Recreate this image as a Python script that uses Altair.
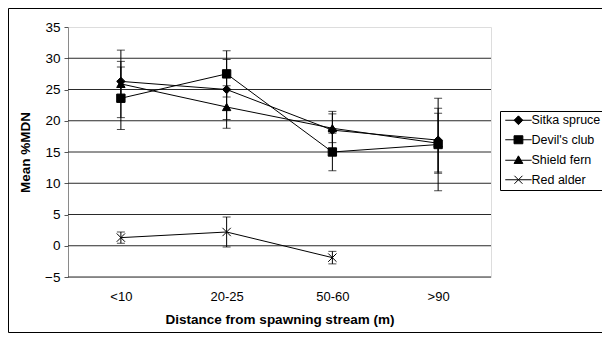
import altair as alt
import pandas as pd

categories = ["<10", "20-25", "50-60", ">90"]
species = ["Sitka spruce", "Devil's club", "Shield fern", "Red alder"]

sitka_mean = [26.3, 25.0, 18.5, 16.9]
sitka_err = [3.2, 4.8, 3.0, 5.1]
devils_mean = [23.6, 27.5, 15.0, 16.2]
devils_err = [5.0, 3.7, 3.0, 7.4]
shield_mean = [25.9, 22.2, 18.8, 16.4]
shield_err = [5.4, 3.4, 2.3, 4.8]
alder_mean = [1.3, 2.2, -1.9, None]
alder_err = [0.9, 2.4, 1.0, None]

y_ticks = [-5, 0, 5, 10, 15, 20, 25, 30, 35]
grid_values = [-5, 0, 5, 10, 15, 20, 25, 30]

plot_shapes = ["diamond", "square", "triangle-up", "M-1,-1L1,1M-1,1L1,-1"]
legend_shapes = [
    "M-1,0L5.6,0M2.3,-1.1L3.4,0L2.3,1.1L1.2,0Z",
    "M-1,0L5.6,0M1.2,-1L3.4,-1L3.4,1L1.2,1Z",
    "M-1,0L5.6,0M2.3,-1.1L3.4,0.8L1.2,0.8Z",
    "M-1,0L5.6,0M1.3,-1L3.3,1M1.3,1L3.3,-1",
]

rows = []
for sp, means, errs in zip(species, [sitka_mean, devils_mean, shield_mean, alder_mean],
                           [sitka_err, devils_err, shield_err, alder_err]):
    for cat, m, e in zip(categories, means, errs):
        if m is None:
            continue
        rows.append({"species": sp, "cat": cat, "mean": m, "lo": m - e, "hi": m + e})
df = pd.DataFrame(rows)
grid_df = pd.DataFrame({"g": grid_values})
frame_df = pd.DataFrame({"k": [0]})

FONT = "Liberation Sans"

x_enc = alt.X("cat:N", sort=categories,
              scale=alt.Scale(type="point", padding=0.5, domain=categories),
              axis=alt.Axis(title="Distance from spawning stream (m)", labelAngle=0,
                            domain=False, ticks=False, labelPadding=13, titlePadding=9,
                            labelFontSize=13, titleFontSize=13.5, titleFontWeight="bold",
                            labelColor="black", titleColor="black", labelFont=FONT, titleFont=FONT))
y_scale = alt.Scale(domain=[-5, 35], nice=False, zero=False)
y_axis = alt.Axis(title="Mean %MDN", values=y_ticks, grid=False, domainColor="#8a8a8a",
                  tickColor="#555555", tickSize=4, labelPadding=4, titlePadding=12,
                  labelOverlap=False, labelBound=False, labelFlush=False,
                  labelFontSize=13.5, titleFontSize=13.5, titleFontWeight="bold",
                  labelColor="black", titleColor="black", labelFont=FONT, titleFont=FONT)


def yq(field):
    return alt.Y(field, scale=y_scale, axis=y_axis)


grid = alt.Chart(grid_df).mark_rule(color="#2a2a2a", strokeWidth=1).encode(y=yq("g:Q"))

bars = alt.Chart(df).mark_rule(color="black", strokeWidth=1).encode(
    x=x_enc, y=yq("lo:Q"), y2="hi:Q", detail="species:N")
caps_lo = alt.Chart(df).mark_tick(color="black", thickness=1, size=8).encode(
    x=x_enc, y=yq("lo:Q"), detail="species:N")
caps_hi = alt.Chart(df).mark_tick(color="black", thickness=1, size=8).encode(
    x=x_enc, y=yq("hi:Q"), detail="species:N")

lines = alt.Chart(df).mark_line(color="black", strokeWidth=1).encode(
    x=x_enc, y=yq("mean:Q"), detail=alt.Detail("species:N"),
    order=alt.Order("cat_order:Q")).transform_calculate(
    cat_order="indexof(" + str(categories).replace("'", '"') + ", datum.cat)")

points = alt.Chart(df).mark_point(filled=True, color="black", stroke="black", strokeWidth=1,
                                  size=70, opacity=1).encode(
    x=x_enc, y=yq("mean:Q"),
    shape=alt.Shape("species:N", scale=alt.Scale(domain=species, range=plot_shapes), legend=None))

legend_layer = alt.Chart(df).transform_filter("false").mark_point(
    filled=False, fill="black", color="black", strokeWidth=1, size=64, opacity=1).encode(
    x=x_enc, y=yq("mean:Q"),
    shape=alt.Shape("species:N", scale=alt.Scale(domain=species, range=legend_shapes),
                    legend=alt.Legend(title=None, orient="none", legendX=432, legendY=84,
                                      symbolSize=64, labelFontSize=12.5, labelFont=FONT,
                                      labelColor="black", labelOffset=16, rowPadding=6.5,
                                      padding=3, strokeColor="black", symbolLimit=0,
                                      symbolStrokeWidth=1, symbolOpacity=1)))

frame = alt.Chart(frame_df).mark_rect(filled=False, stroke="black", strokeWidth=1, clip=False).encode(
    x=alt.value(-59.5), x2=alt.value(560), y=alt.value(-18.5), y2=alt.value(305.5))

chart = alt.layer(grid, bars, caps_lo, caps_hi, lines, points, legend_layer, frame).resolve_scale(
    shape="independent").properties(
    width=423, height=250,
    padding={"left": 60, "top": 19, "right": 111, "bottom": 56},
    autosize=alt.AutoSizeParams(type="none"),
).configure_view(stroke=None).configure(background="white")

chart.save("out.html", embed_options={"renderer": "svg", "actions": False})
